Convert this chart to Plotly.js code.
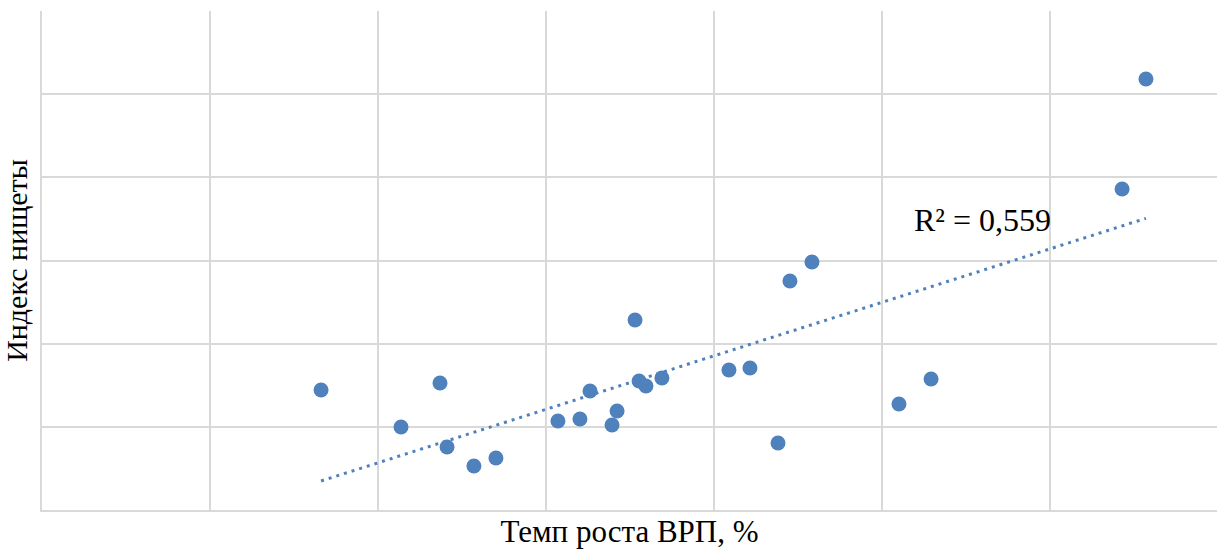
<!DOCTYPE html>
<html>
<head>
<meta charset="utf-8">
<script src="https://cdn.plot.ly/plotly-3.0.1.min.js"></script>
<style>html,body{margin:0;padding:0;background:#fff;}#chart{width:1217px;height:551px;}</style>
</head>
<body>
<div id="chart"></div>
<script>
// Темп роста ВРП (relative units, unlabeled axes)
const gdpGrowth = [1.661, 2.137, 2.369, 2.411, 2.571, 2.702, 3.071, 3.202, 3.262, 3.393, 3.423, 3.530,
                   3.554, 3.595, 3.690, 4.089, 4.214, 4.381, 4.452, 4.583, 5.101, 5.292, 6.429, 6.571];
// Индекс нищеты
const povertyIndex = [1.443, 0.998, 1.527, 0.757, 0.529, 0.625, 1.070, 1.094, 1.431, 1.022, 1.190, 2.285,
                      1.551, 1.491, 1.587, 1.683, 1.707, 0.806, 2.753, 2.982, 1.274, 1.575, 3.860, 5.182];
const r2Label = "R² = 0,559";
const xTitle = "Темп роста ВРП, %";
const yTitle = "Индекс нищеты";

// linear trend by least squares
const n = gdpGrowth.length;
const mx = gdpGrowth.reduce((a,b)=>a+b,0)/n;
const my = povertyIndex.reduce((a,b)=>a+b,0)/n;
let sxy=0, sxx=0;
for(let i=0;i<n;i++){ sxy += (gdpGrowth[i]-mx)*(povertyIndex[i]-my); sxx += (gdpGrowth[i]-mx)**2; }
const slope = sxy/sxx, intercept = my - slope*mx;
const xMin = Math.min(...gdpGrowth), xMax = Math.max(...gdpGrowth);
const trendX = [xMin, xMax];
const trendY = trendX.map(x => intercept + slope*x);

const blue = '#4F81BD';
const data = [
  {x: trendX, y: trendY, type:'scatter', mode:'lines', line:{color:blue, width:3, dash:'3px,5px'}, hoverinfo:'skip'},
  {x: gdpGrowth, y: povertyIndex, type:'scatter', mode:'markers', marker:{color:blue, size:15}}
];
const font = "Liberation Serif";
const layout = {
  width:1217, height:551,
  margin:{l:42, r:0, t:11, b:41},
  paper_bgcolor:'#fff', plot_bgcolor:'#fff',
  showlegend:false,
  font:{family:font, color:'#000'},
  xaxis:{range:[0,6.994], dtick:1, tick0:0, showticklabels:false, ticks:'',
         gridcolor:'#d9d9d9', gridwidth:2, zeroline:false, showline:true, linecolor:'#d9d9d9', linewidth:2,
         title:{text:xTitle, font:{family:font, size:31, color:'#000'}, standoff:9}},
  yaxis:{range:[0,6], dtick:1, tick0:0, showticklabels:false, ticks:'',
         gridcolor:'#d9d9d9', gridwidth:2, zeroline:false, showline:true, linecolor:'#d9d9d9', linewidth:2,
         title:{text:yTitle, font:{family:font, size:30, color:'#000'}, standoff:4}},
  annotations:[{x:5.18, y:3.487, xref:'x', yref:'y', text:r2Label, showarrow:false,
                xanchor:'left', yanchor:'middle', font:{family:font, size:32, color:'#000'}}]
};
Plotly.newPlot('chart', data, layout, {displayModeBar:false, staticPlot:true});
</script>
</body>
</html>
